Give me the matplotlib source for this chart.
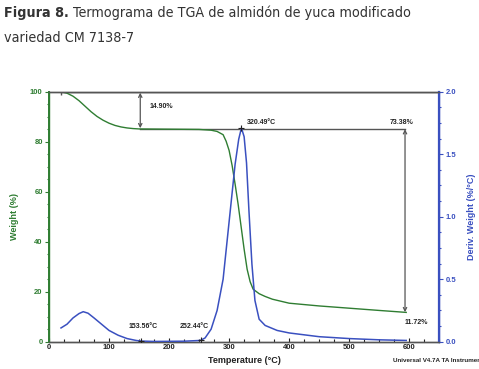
import matplotlib
matplotlib.use("Agg")
import matplotlib.pyplot as plt
from matplotlib.ticker import MultipleLocator

# Curva de peso (TGA)
temp_w = [20, 30, 40, 50, 60, 70, 80, 90, 100, 110, 120, 130, 140, 150, 200,
          250, 270, 280, 290, 295, 300, 305, 310, 315, 320, 325, 330, 335, 340,
          350, 360, 372, 400, 450, 500, 550, 595]
weight = [100, 99.4, 98.2, 96.4, 94.2, 92.0, 90.1, 88.6, 87.4, 86.5, 85.9, 85.5,
          85.25, 85.1, 85.0, 84.9, 84.6, 84.1, 82.8, 80.2, 76.5, 70.5, 63, 55,
          46, 37, 29, 24, 21, 19.2, 18.1, 17.0, 15.4, 14.3, 13.4, 12.5, 11.72]

# Curva derivada (DTG)
temp_d = [20, 30, 40, 50, 57, 65, 75, 90, 100, 115, 130, 145, 153, 175, 225,
          252, 260, 270, 280, 290, 300, 310, 316, 320.5, 325, 329, 333, 338, 343,
          350, 360, 380, 400, 450, 500, 550, 595]
deriv = [0.11, 0.14, 0.19, 0.225, 0.24, 0.228, 0.19, 0.13, 0.09, 0.052, 0.025,
         0.01, 0.005, 0.002, 0.004, 0.01, 0.03, 0.1, 0.25, 0.5, 0.96, 1.42, 1.62,
         1.71, 1.64, 1.43, 1.05, 0.62, 0.33, 0.18, 0.13, 0.09, 0.07, 0.04, 0.025,
         0.015, 0.01]

green = "#2f7d32"
blue = "#3a50c0"
gray = "#555555"
lab_font = "Liberation Sans"

fig = plt.figure(figsize=(4.79, 3.69), dpi=100)
ax = fig.add_axes([0.1023, 0.074, 0.8147, 0.6775])
ax2 = ax.twinx()

ax.plot(temp_w, weight, color=green, lw=1.0, zorder=3)
ax2.plot(temp_d, deriv, color=blue, lw=1.1, zorder=3)

ax.set_xlim(0, 650)
ax.set_ylim(0, 100)
ax2.set_ylim(0, 2.0)

ax.xaxis.set_major_locator(MultipleLocator(100))
ax.xaxis.set_minor_locator(MultipleLocator(25))
ax.yaxis.set_major_locator(MultipleLocator(20))
ax.yaxis.set_minor_locator(MultipleLocator(5))
ax2.yaxis.set_major_locator(MultipleLocator(0.5))
ax2.yaxis.set_minor_locator(MultipleLocator(0.125))

ax.tick_params(axis="x", which="both", direction="in", colors="#222222",
               labelsize=5.5, pad=2)
ax.tick_params(axis="x", which="major", length=3, width=0.8)
ax.tick_params(axis="x", which="minor", length=2, width=0.8)
ax.tick_params(axis="y", which="both", colors=green, labelsize=5.5, pad=1.5)
ax.tick_params(axis="y", which="major", length=3, width=0.8)
ax.tick_params(axis="y", which="minor", length=1.5, width=0.8)
ax2.tick_params(axis="y", which="both", colors=blue, labelsize=5.5, pad=1.5)
ax2.tick_params(axis="y", which="major", length=3, width=0.8)
ax2.tick_params(axis="y", which="minor", length=1.5, width=0.8)
for lab in ax.get_xticklabels() + ax.get_yticklabels() + ax2.get_yticklabels():
    lab.set_fontweight("bold")
    lab.set_family(lab_font)

for a in (ax, ax2):
    a.spines["top"].set_color(gray)
    a.spines["bottom"].set_color(gray)
    a.spines["left"].set_color(green)
    a.spines["right"].set_color(blue)
    for s in a.spines.values():
        s.set_linewidth(1.0)
ax.spines["left"].set_linewidth(1.4)
ax2.spines["right"].set_linewidth(1.6)

ax.set_xlabel("Temperature (°C)", fontsize=6.5, fontweight="bold",
              family=lab_font, labelpad=3, color="#222222")
ax.set_ylabel("Weight (%)", fontsize=6.5, fontweight="bold",
              family=lab_font, color=green, labelpad=8)
ax2.set_ylabel("Deriv. Weight (%/°C)", fontsize=6.5, fontweight="bold",
               family=lab_font, color=blue, labelpad=8)

# Anotaciones
ax.plot([20, 650], [100, 100], color=gray, lw=1.0, zorder=2)
ax.plot([20], [100], marker="|", color=gray, ms=5, mew=1.0)
ax.plot([152, 593], [85.1, 85.1], color=gray, lw=1.0, zorder=2)
ax.annotate("", xy=(152, 99.6), xytext=(152, 85.4),
            arrowprops=dict(arrowstyle="<->", color=gray, lw=0.9,
                            mutation_scale=6, shrinkA=0, shrinkB=0))
ax.annotate("", xy=(593, 85.0), xytext=(593, 11.8),
            arrowprops=dict(arrowstyle="<->", color=gray, lw=0.9,
                            mutation_scale=6, shrinkA=0, shrinkB=0))
ann = dict(fontsize=5, fontweight="bold", family=lab_font, color="#222222")
ax.text(167, 94, "14.90%", ha="left", va="center", **ann)
ax.text(330, 87.5, "320.49°C", ha="left", va="center", **ann)
ax.text(587, 87.6, "73.38%", ha="center", va="center", **ann)
ax.text(593, 7.6, "11.72%", ha="left", va="center", **ann)
ax.text(157, 5.9, "153.56°C", ha="center", va="center", **ann)
ax.text(242, 5.9, "252.44°C", ha="center", va="center", **ann)
ax2.plot([153.56, 252.44], [0.005, 0.01], ls="none", marker="+",
         color="#222222", ms=4, mew=0.8, zorder=4)
ax2.plot([320.49], [1.71], ls="none", marker="+", color="#222222",
         ms=4, mew=0.8, zorder=4)

fig.text(0.821, 0.024, "Universal V4.7A TA Instruments", fontsize=4.5,
         fontweight="bold", family=lab_font, color="#222222",
         ha="left", va="center")

# Título
tfont = dict(family="DejaVu Sans", stretch="condensed", fontsize=10.3,
             color="#333333", va="baseline")
t1 = fig.text(0.008, 0.953, "Figura 8.", fontweight="bold", ha="left", **tfont)
fig.canvas.draw()
r = fig.canvas.get_renderer()
bb = t1.get_window_extent(r)
x2 = (bb.x1 + 4) / fig.bbox.width
fig.text(x2, 0.953, "Termograma de TGA de almidón de yuca modificado",
         ha="left", **tfont)
fig.text(0.008, 0.885, "variedad CM 7138-7", ha="left", **tfont)

fig.savefig("out.png", dpi=100)
